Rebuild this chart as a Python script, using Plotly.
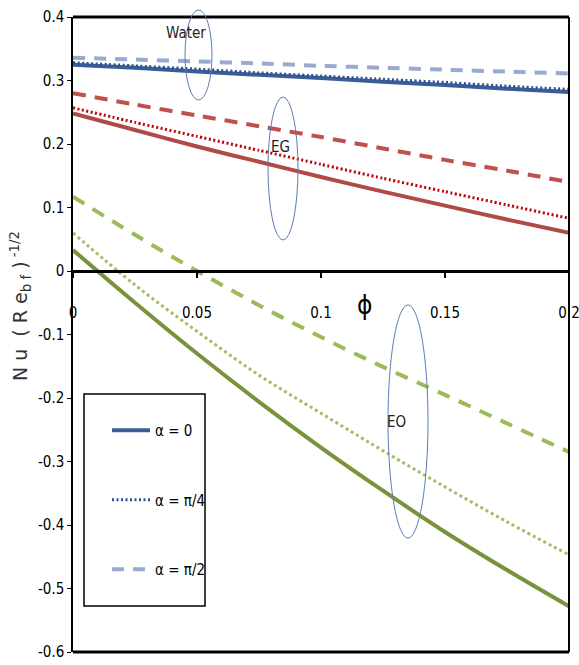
import plotly.graph_objects as go

# ---- data ----
phi = [0, 0.025, 0.05, 0.075, 0.1, 0.125, 0.15, 0.175, 0.2]

water_a0 = [0.325, 0.320, 0.314, 0.309, 0.304, 0.298, 0.293, 0.287, 0.282]
water_a4 = [0.328, 0.323, 0.318, 0.312, 0.307, 0.302, 0.297, 0.291, 0.286]
water_a2 = [0.336, 0.333, 0.330, 0.327, 0.323, 0.320, 0.317, 0.314, 0.311]

eg_a0 = [0.248, 0.222, 0.196, 0.172, 0.148, 0.125, 0.103, 0.081, 0.060]
eg_a4 = [0.257, 0.234, 0.212, 0.190, 0.168, 0.146, 0.125, 0.104, 0.083]
eg_a2 = [0.280, 0.262, 0.245, 0.228, 0.211, 0.193, 0.175, 0.158, 0.140]

eo_a0 = [0.033, -0.050, -0.130, -0.206, -0.278, -0.346, -0.411, -0.471, -0.528]
eo_a4 = [0.060, -0.022, -0.095, -0.164, -0.224, -0.283, -0.340, -0.395, -0.447]
eo_a2 = [0.117, 0.057, 0.000, -0.054, -0.104, -0.151, -0.195, -0.240, -0.285]

legend_names = ["α = 0", "α = π/4", "α = π/2"]
x_ticks = [0, 0.05, 0.1, 0.15, 0.2]
x_ticktext = ["0", "0.05", "0.1", "0.15", "0.2"]
y_ticks = [-0.6, -0.5, -0.4, -0.3, -0.2, -0.1, 0, 0.1, 0.2, 0.3, 0.4]
y_ticktext = ["-0.6", "-0.5", "-0.4", "-0.3", "-0.2", "-0.1", "0", "0.1", "0.2", "0.3", "0.4"]

NARROW = "DejaVu Sans Condensed, DejaVu Sans, sans-serif"

fig = go.Figure()

def add(y, color, width, dash, name=None, group=None, show=False, smooth=0.0):
    fig.add_trace(go.Scatter(
        x=phi, y=y, mode="lines",
        line=dict(color=color, width=width, dash=dash, shape="spline", smoothing=smooth),
        name=name, legendgroup=group, showlegend=show, hoverinfo="skip"))

# EO
add(eo_a0, "#77933C", 4, "solid", smooth=1.0)
add(eo_a4, "#A2BE66", 3, "3px,3px", smooth=1.0)
add(eo_a2, "#9BBB59", 4, "13px,10px", smooth=1.0)
# EG
add(eg_a0, "#B04A47", 4, "solid", smooth=0.5)
add(eg_a4, "#C00000", 3, "2px,2.5px", smooth=0.5)
add(eg_a2, "#C0504D", 4, "13px,9px", smooth=0.5)
# Water (legend entries)
add(water_a0, "#3A5D98", 4, "solid", legend_names[0], "g1", True)
add(water_a4, "#2F528F", 3, "2px,2.5px", legend_names[1], "g2", True)
add(water_a2, "#98AAD0", 4, "12px,9px", legend_names[2], "g3", True)

W, H = 579, 665
L, R, T, B = 73, 569, 17, 652          # plot area in pixels
def px(x): return (x - L) / (R - L)
def py(y): return (B - y) / (B - T)

shapes = [
    dict(type="line", xref="paper", yref="paper", x0=0, x1=1, y0=1, y1=1, line=dict(color="black", width=3)),
    dict(type="line", xref="paper", yref="paper", x0=0, x1=1, y0=0, y1=0, line=dict(color="black", width=3)),
    dict(type="line", xref="paper", yref="paper", x0=1, x1=1, y0=0, y1=1, line=dict(color="black", width=2)),
    dict(type="circle", xref="paper", yref="paper", x0=px(185), x1=px(212), y0=py(100), y1=py(10),
         line=dict(color="#5A7DB8", width=1)),
    dict(type="circle", xref="paper", yref="paper", x0=px(268), x1=px(298), y0=py(240), y1=py(97),
         line=dict(color="#5A7DB8", width=1)),
    dict(type="circle", xref="paper", yref="paper", x0=px(388), x1=px(428), y0=py(538), y1=py(305),
         line=dict(color="#5A7DB8", width=1)),
    dict(type="rect", xref="paper", yref="paper", x0=px(84), x1=px(205), y0=py(606), y1=py(394),
         line=dict(color="black", width=1.5), fillcolor="white", layer="below"),
]

def ann(text, x, y, size, color="#222", family=NARROW, angle=0):
    return dict(text=text, x=px(x), y=py(y), xref="paper", yref="paper", showarrow=False,
                xanchor="center", yanchor="middle", textangle=angle,
                font=dict(family=family, size=size, color=color))

NB = "\u00a0"
ytitle = ("N" + NB + "u" + NB + NB + "(" + NB + "R" + NB + "e<sub>b" + NB + "f</sub>" + NB + ")"
          + "<sup>" + NB + "-1/2</sup>")

annotations = [
    ann("Water", 186, 33, 15),
    ann("EG", 280, 147, 15),
    ann("EO", 396, 422, 15),
    ann("ϕ", 364, 305, 26, "black"),
    ann(ytitle, 20, 306, 19, "#333", "DejaVu Sans", -90),
]

fig.update_layout(
    width=W, height=H,
    margin=dict(l=L, r=W - R, t=T, b=H - B, autoexpand=False),
    paper_bgcolor="white", plot_bgcolor="white",
    shapes=shapes, annotations=annotations,
    showlegend=True,
    legend=dict(x=px(107), y=py(414), xanchor="left", yanchor="top", itemwidth=38,
                bgcolor="rgba(0,0,0,0)", borderwidth=0, tracegroupgap=47,
                font=dict(family=NARROW, size=15, color="black")),
    xaxis=dict(range=[0, 0.2], anchor="free", position=0.6, showline=True, linecolor="black", linewidth=3,
               ticks="outside", ticklen=5, tickwidth=2, tickcolor="black",
               tickvals=x_ticks, ticktext=x_ticktext, ticklabelstandoff=22, ticklabeloverflow="allow",
               showgrid=False, zeroline=False, automargin=False,
               tickfont=dict(family=NARROW, size=15, color="black")),
    yaxis=dict(range=[-0.6, 0.4], showline=True, linecolor="black", linewidth=1.5,
               ticks="outside", ticklen=4, tickwidth=1, tickcolor="black", ticklabeloverflow="allow",
               tickvals=y_ticks, ticktext=y_ticktext, showgrid=False, zeroline=False, automargin=False,
               tickfont=dict(family=NARROW, size=15, color="black")),
)

fig.write_html("out.html", config={"displayModeBar": False},
               post_script="document.body.style.margin='0';document.body.style.overflow='hidden';")
